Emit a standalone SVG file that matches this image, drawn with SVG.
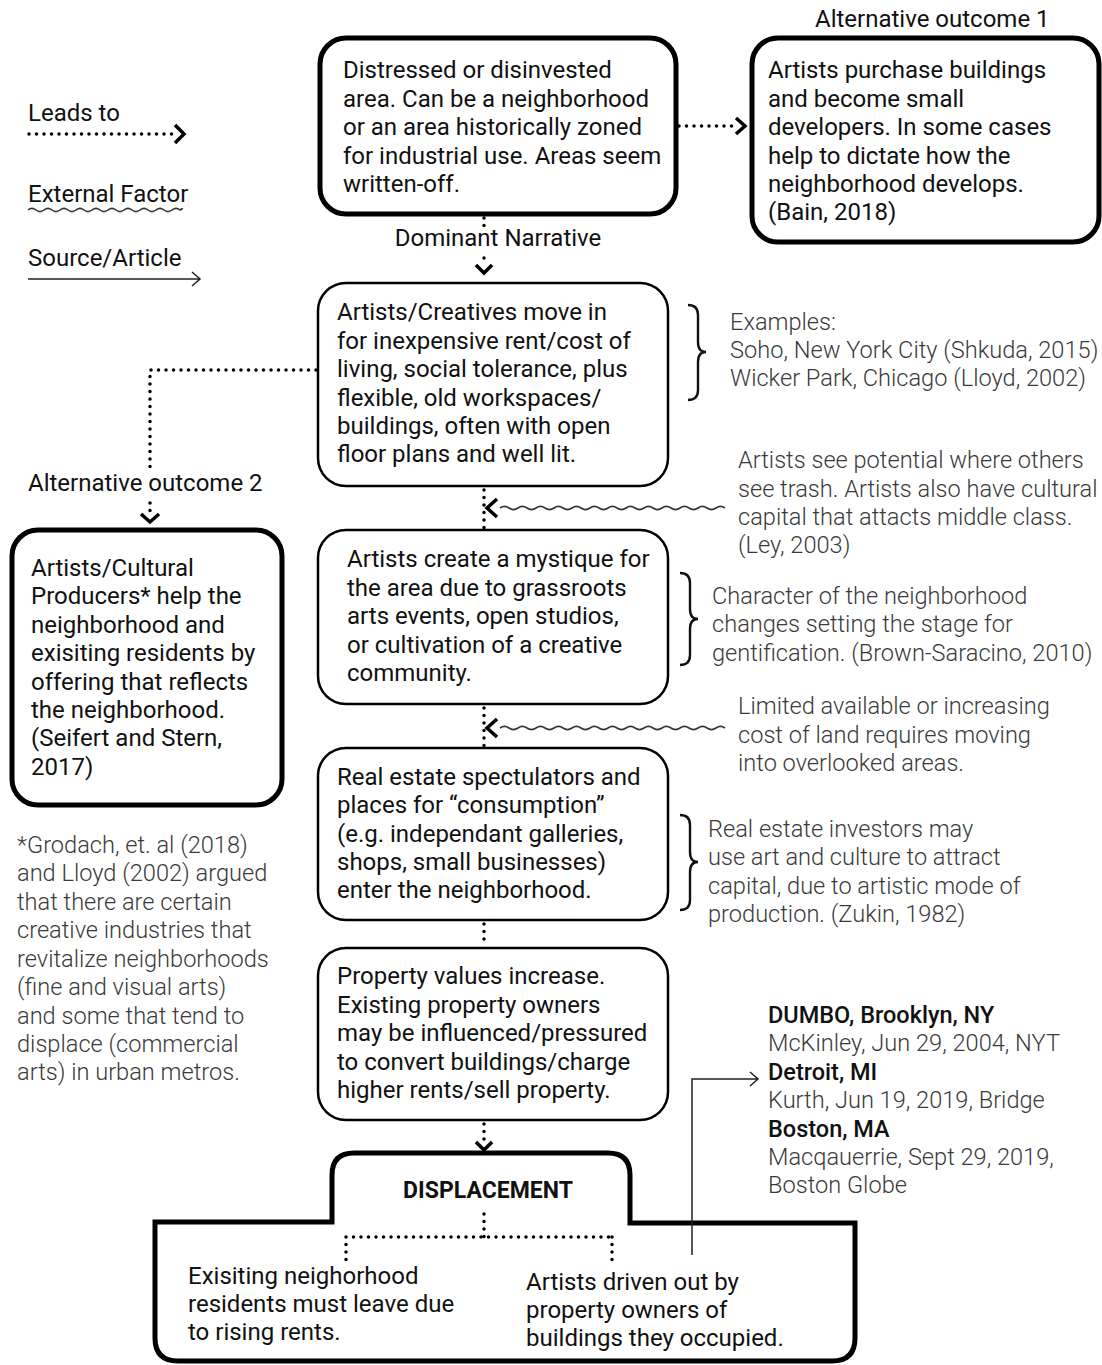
<svg xmlns="http://www.w3.org/2000/svg" width="1102" height="1365" viewBox="0 0 1102 1365">
<style>
.t{font-family:Roboto,"Liberation Sans",sans-serif;font-size:24px;fill:#111}
.s{font-family:Roboto,"Liberation Sans",sans-serif;font-size:23.5px;fill:#111;font-weight:500}
.l{font-family:Roboto,"Liberation Sans",sans-serif;font-size:23.6px;fill:#3a3a3a;font-weight:300}
.b{font-family:Roboto,"Liberation Sans",sans-serif;font-size:23px;fill:#111;font-weight:bold}
.thick{fill:#fff;stroke:#000;stroke-width:5}
.thin{fill:#fff;stroke:#000;stroke-width:2.5}
.dot{fill:none;stroke:#000;stroke-width:3.5;stroke-linecap:round;stroke-dasharray:0 7.5}
.chev{fill:none;stroke:#000;stroke-width:3.5;stroke-linejoin:miter}
.wave{fill:none;stroke:#333;stroke-width:1.6}
.src{fill:none;stroke:#222;stroke-width:1.5}
.brace{fill:none;stroke:#111;stroke-width:2.4}
</style>
<g id="legend">
<text class="t" x="28" y="121">Leads to</text>
<path class="dot" d="M29,134 H172"/>
<path class="chev" d="M175,125 L184,134 L175,143"/>
<text class="t" x="28" y="202">External Factor</text>
<path class="wave" d="M28,210 q4,-3.2 8,0 t8,0 t8,0 t8,0 t8,0 t8,0 t8,0 t8,0 t8,0 t8,0 t8,0 t8,0 t8,0 t8,0 t8,0 t8,0 t8,0 t8,0 t8,0 q2,-1.5 3,-1"/>
<text class="t" x="28" y="266">Source/Article</text>
<path class="src" d="M28,279 H200 M192,272 L200,279 L192,286"/>
</g>
<g id="n1">
<rect class="thick" x="320" y="38" width="356" height="176" rx="26"/>
<text class="t"><tspan x="343" y="78">Distressed or disinvested</tspan><tspan x="343" y="107">area. Can be a neighborhood</tspan><tspan x="343" y="135">or an area historically zoned</tspan><tspan x="343" y="164">for industrial use. Areas seem</tspan><tspan x="343" y="192">written-off.</tspan></text>
</g>
<g id="alt1">
<text class="t" x="815" y="27">Alternative outcome 1</text>
<rect class="thick" x="752" y="38" width="347" height="204" rx="26"/>
<text class="t"><tspan x="768" y="78">Artists purchase buildings</tspan><tspan x="768" y="107">and become small</tspan><tspan x="768" y="135">developers. In some cases</tspan><tspan x="768" y="164">help to dictate how the</tspan><tspan x="768" y="192">neighborhood develops.</tspan><tspan x="768" y="220">(Bain, 2018)</tspan></text>
</g>
<g id="dominant">
<text class="t" x="498" y="246" text-anchor="middle">Dominant Narrative</text>
</g>
<g id="n2">
<rect class="thin" x="318" y="283" width="350" height="203" rx="28"/>
<text class="t"><tspan x="337" y="320">Artists/Creatives move in</tspan><tspan x="337" y="349">for inexpensive rent/cost of</tspan><tspan x="337" y="377">living, social tolerance, plus</tspan><tspan x="337" y="406">flexible, old workspaces/</tspan><tspan x="337" y="434">buildings, often with open</tspan><tspan x="337" y="462">floor plans and well lit.</tspan></text>
</g>
<g id="examples">
<text class="l"><tspan x="730" y="330">Examples:</tspan><tspan x="730" y="358">Soho, New York City (Shkuda, 2015)</tspan><tspan x="730" y="386">Wicker Park, Chicago (Lloyd, 2002)</tspan></text>
</g>
<g id="alt2">
<text class="t" x="28" y="491">Alternative outcome 2</text>
<rect class="thick" x="12" y="530" width="270" height="275" rx="26"/>
<text class="t"><tspan x="31" y="576">Artists/Cultural</tspan><tspan x="31" y="604">Producers* help the</tspan><tspan x="31" y="633">neighborhood and</tspan><tspan x="31" y="661">exisiting residents by</tspan><tspan x="31" y="690">offering that reflects</tspan><tspan x="31" y="718">the neighborhood.</tspan><tspan x="31" y="746">(Seifert and Stern,</tspan><tspan x="31" y="775">2017)</tspan></text>
</g>
<g id="footnote">
<text class="l"><tspan x="17" y="853">*Grodach, et. al (2018)</tspan><tspan x="17" y="881">and Lloyd (2002) argued</tspan><tspan x="17" y="910">that there are certain</tspan><tspan x="17" y="938">creative industries that</tspan><tspan x="17" y="967">revitalize neighborhoods</tspan><tspan x="17" y="995">(fine and visual arts)</tspan><tspan x="17" y="1024">and some that tend to</tspan><tspan x="17" y="1052">displace (commercial</tspan><tspan x="17" y="1080">arts) in urban metros.</tspan></text>
</g>
<g id="ext1">
<text class="l"><tspan x="738" y="468">Artists see potential where others</tspan><tspan x="738" y="497">see trash. Artists also have cultural</tspan><tspan x="738" y="525">capital that attacts middle class.</tspan><tspan x="738" y="553">(Ley, 2003)</tspan></text>
</g>
<g id="n3">
<rect class="thin" x="318" y="530" width="350" height="174" rx="28"/>
<text class="t"><tspan x="347" y="567">Artists create a mystique for</tspan><tspan x="347" y="596">the area due to grassroots</tspan><tspan x="347" y="624">arts events, open studios,</tspan><tspan x="347" y="653">or cultivation of a creative</tspan><tspan x="347" y="681">community.</tspan></text>
</g>
<g id="char">
<text class="l"><tspan x="712" y="604">Character of the neighborhood</tspan><tspan x="712" y="632">changes setting the stage for</tspan><tspan x="712" y="661">gentification. (Brown-Saracino, 2010)</tspan></text>
</g>
<g id="ext2">
<text class="l"><tspan x="738" y="714">Limited available or increasing</tspan><tspan x="738" y="743">cost of land requires moving</tspan><tspan x="738" y="771">into overlooked areas.</tspan></text>
</g>
<g id="n4">
<rect class="thin" x="318" y="748" width="350" height="172" rx="28"/>
<text class="t"><tspan x="337" y="785">Real estate spectulators and</tspan><tspan x="337" y="813">places for “consumption”</tspan><tspan x="337" y="842">(e.g. independant galleries,</tspan><tspan x="337" y="870">shops, small businesses)</tspan><tspan x="337" y="898">enter the neighborhood.</tspan></text>
</g>
<g id="investors">
<text class="l"><tspan x="708" y="837">Real estate investors may</tspan><tspan x="708" y="865">use art and culture to attract</tspan><tspan x="708" y="894">capital, due to artistic mode of</tspan><tspan x="708" y="922">production. (Zukin, 1982)</tspan></text>
</g>
<g id="n5">
<rect class="thin" x="318" y="948" width="350" height="172" rx="28"/>
<text class="t"><tspan x="337" y="984">Property values increase.</tspan><tspan x="337" y="1013">Existing property owners</tspan><tspan x="337" y="1041">may be influenced/pressured</tspan><tspan x="337" y="1070">to convert buildings/charge</tspan><tspan x="337" y="1098">higher rents/sell property.</tspan></text>
</g>
<g id="sources">
<text class="s" x="768" y="1023">DUMBO, Brooklyn, NY</text>
<text class="l" x="768" y="1051">McKinley, Jun 29, 2004, NYT</text>
<text class="s" x="768" y="1080">Detroit, MI</text>
<text class="l" x="768" y="1108">Kurth, Jun 19, 2019, Bridge</text>
<text class="s" x="768" y="1137">Boston, MA</text>
<text class="l"><tspan x="768" y="1165">Macqauerrie, Sept 29, 2019,</tspan><tspan x="768" y="1193">Boston Globe</tspan></text>
</g>
<g id="displacement">
<path class="thick" d="M332,1222 V1175 Q332,1153 354,1153 H608 Q630,1153 630,1175 V1223 H855 V1338 Q855,1361 832,1361 H178 Q155,1361 155,1338 V1222 Z"/>
<text class="b" x="488" y="1198" text-anchor="middle">DISPLACEMENT</text>
<text class="t"><tspan x="188" y="1284">Exisiting neighorhood</tspan><tspan x="188" y="1312">residents must leave due</tspan><tspan x="188" y="1340">to rising rents.</tspan></text>
<text class="t"><tspan x="526" y="1290">Artists driven out by</tspan><tspan x="526" y="1318">property owners of</tspan><tspan x="526" y="1346">buildings they occupied.</tspan></text>
</g>
<g id="connectors">
<path class="dot" d="M679,126 H737"/>
<path class="chev" d="M736,118 L745,126 L736,134"/>
<path class="dot" d="M484,218 V228"/>
<path class="dot" d="M484,258 V263"/>
<path class="chev" d="M476,265 L484,273 L492,265"/>
<path class="dot" d="M316,370 H150 V468"/>
<path class="dot" d="M150,503 V512"/>
<path class="chev" d="M141,514 L150,522 L159,514"/>
<path class="dot" d="M484,490 V528"/>
<path class="chev" d="M497,499 L487,508 L497,517"/>
<path class="wave" d="M500,508 q4.5,-3.2 9,0 t9,0 t9,0 t9,0 t9,0 t9,0 t9,0 t9,0 t9,0 t9,0 t9,0 t9,0 t9,0 t9,0 t9,0 t9,0 t9,0 t9,0 t9,0 t9,0 t9,0 t9,0 t9,0 t9,0 t9,0"/>
<path class="dot" d="M484,708 V746"/>
<path class="chev" d="M497,719 L487,728 L497,737"/>
<path class="wave" d="M500,728 q4.5,-3.2 9,0 t9,0 t9,0 t9,0 t9,0 t9,0 t9,0 t9,0 t9,0 t9,0 t9,0 t9,0 t9,0 t9,0 t9,0 t9,0 t9,0 t9,0 t9,0 t9,0 t9,0 t9,0 t9,0 t9,0 t9,0"/>
<path class="dot" d="M484,924 V946"/>
<path class="dot" d="M484,1124 V1140"/>
<path class="chev" d="M476,1142 L484,1150 L492,1142"/>
<path class="dot" d="M484,1214 V1237 M346,1237 H612 M346,1237 V1262 M612,1237 V1262"/>
<path class="src" d="M692,1255 V1079 H758 M750,1072 L758,1079 L750,1086"/>
<path class="brace" d="M688,305 Q698,305 698,315 L698,342 Q698,352 706,352 Q698,352 698,362 L698,390 Q698,400 688,400"/>
<path class="brace" d="M680,573 Q690,573 690,583 L690,609 Q690,619 698,619 Q690,619 690,629 L690,655 Q690,665 680,665"/>
<path class="brace" d="M680,815 Q690,815 690,825 L690,852 Q690,862 698,862 Q690,862 690,872 L690,900 Q690,910 680,910"/>
</g>
</svg>
